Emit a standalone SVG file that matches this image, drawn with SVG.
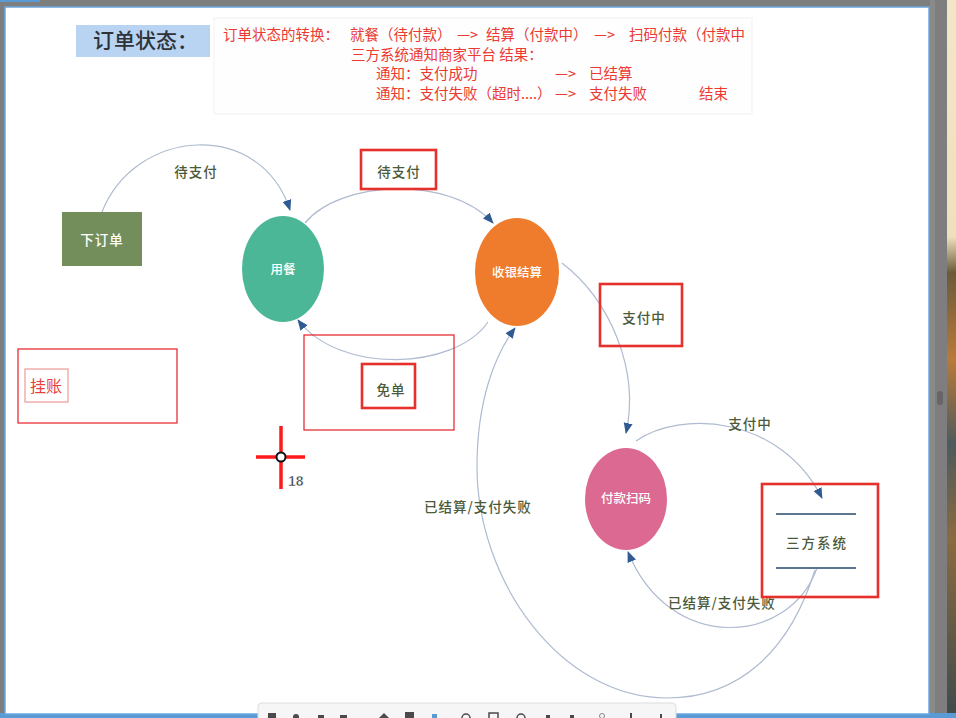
<svg xmlns="http://www.w3.org/2000/svg" width="956" height="718" viewBox="0 0 956 718">
<defs>
<style>
.lbl{font-family:"Noto Sans CJK SC","Liberation Sans",sans-serif;font-size:13.5px;font-weight:500;fill:#4b5a3a;text-anchor:middle;letter-spacing:1px}
.nt{font-family:"Noto Sans CJK SC","Liberation Sans",sans-serif;font-size:12.5px;font-weight:500;fill:#ffffff;text-anchor:middle}
.red{font-family:"Noto Sans CJK SC","Liberation Sans",sans-serif;font-size:14.5px;fill:#ea3a32}
.edge{fill:none;stroke:#aebbd0;stroke-width:1.2}
.hl{fill:none;stroke:#e6302b;stroke-width:2.6}
.thin{fill:none;stroke:#e41e26;stroke-width:1.2}
.ico{fill:#4a4a4a}
</style>
<marker id="arr" markerWidth="11" markerHeight="10" refX="10" refY="5" orient="auto" markerUnits="userSpaceOnUse">
<path d="M0,0.5 L11,5 L0,9.5 z" fill="#2f5b92"/>
</marker>
<linearGradient id="photo" x1="0" y1="0" x2="0" y2="1">
<stop offset="0" stop-color="#f3e6c8"/>
<stop offset="0.33" stop-color="#efe0bd"/>
<stop offset="0.38" stop-color="#6b5a3a"/>
<stop offset="0.5" stop-color="#b87a3a"/>
<stop offset="0.62" stop-color="#4e5a5c"/>
<stop offset="0.75" stop-color="#8a6a40"/>
<stop offset="1" stop-color="#3f4a4c"/>
</linearGradient>
</defs>

<!-- window frame -->
<g id="frame">
<rect x="0" y="0" width="956" height="718" fill="#7e7e7e"/>
<rect x="0" y="0" width="40" height="2" fill="#5b9bd5"/>
<rect x="947" y="0" width="9" height="718" fill="url(#photo)"/>
<rect x="930" y="0" width="5" height="718" fill="#8a8a8a"/>
<rect x="937" y="391" width="6" height="14" rx="3" fill="#666"/>
<rect x="0" y="713" width="956" height="5" fill="#5b9bd5"/>
<rect x="5" y="7" width="924" height="707" fill="#ffffff" stroke="#6aa6e0" stroke-width="1.5"/>
</g>

<!-- header -->
<g id="title">
<rect x="76" y="25" width="134" height="32" fill="#b9d3f3"/>
<text x="93" y="48" font-family="Noto Sans CJK SC, Liberation Sans, sans-serif" font-size="21" font-weight="500" fill="#2f3337">订单状态：</text>
<text x="80" y="33" font-family="Liberation Sans, sans-serif" font-size="9" fill="#cfdcea">··</text>
<text x="198" y="33" font-family="Liberation Sans, sans-serif" font-size="9" fill="#cfdcea">··</text>
</g>

<g id="note">
<rect x="214" y="18" width="538" height="96" fill="#fefefe" stroke="#f1f1f1" stroke-width="1"/>
<text class="red" x="223" y="40">订单状态的转换：</text>
<text class="red" x="350" y="40">就餐（待付款）</text>
<text class="red" x="457" y="40">—&gt;</text>
<text class="red" x="486" y="40">结算（付款中）</text>
<text class="red" x="594" y="40">—&gt;</text>
<text class="red" x="629" y="40">扫码付款（付款中</text>
<text class="red" x="351" y="60">三方系统通知商家平台 结果：</text>
<text class="red" x="376" y="79">通知：支付成功</text>
<text class="red" x="555" y="79">—&gt;</text>
<text class="red" x="589" y="79">已结算</text>
<text class="red" x="376" y="99">通知：支付失败（超时....）</text>
<text class="red" x="555" y="99">—&gt;</text>
<text class="red" x="589" y="99">支付失败</text>
<text class="red" x="699" y="99">结束</text>
</g>

<!-- connectors -->
<g id="connectors">
<path class="edge" d="M102,212 C135,128 260,118 290,210" marker-end="url(#arr)"/>
<path class="edge" d="M305,223 C340,180 450,175 493,223" marker-end="url(#arr)"/>
<path class="edge" d="M488,322 C455,370 340,375 298,320" marker-end="url(#arr)"/>
<path class="edge" d="M562,263 C610,300 640,370 626,433" marker-end="url(#arr)"/>
<path class="edge" d="M636,441 C680,410 780,415 822,498" marker-end="url(#arr)"/>
<path class="edge" d="M817,568 C790,645 670,655 628,552" marker-end="url(#arr)"/>
<path class="edge" d="M815,570 C790,650 740,698 667,698 C560,698 477,580 477,467 C477,400 495,355 515,328" marker-end="url(#arr)"/>
</g>

<!-- edge labels -->
<g id="labels">
<text class="lbl" x="196" y="177">待支付</text>
<rect class="hl" x="361" y="150" width="75" height="39"/>
<text class="lbl" x="399" y="177">待支付</text>
<rect class="hl" x="362" y="364" width="53" height="44"/>
<text class="lbl" x="391" y="395">免单</text>
<rect class="thin" x="304" y="335" width="150" height="95"/>
<rect class="hl" x="600" y="284" width="82" height="62"/>
<text class="lbl" x="644" y="323">支付中</text>
<text class="lbl" x="750" y="429">支付中</text>
<text class="lbl" x="722" y="608">已结算/支付失败</text>
<text class="lbl" x="478" y="512">已结算/支付失败</text>
</g>

<!-- nodes -->
<g id="node-order">
<rect x="62" y="212" width="80" height="54" fill="#738d5b"/>
<text class="nt" x="102" y="245" style="font-size:13.5px;letter-spacing:1px">下订单</text>
</g>
<g id="node-dine">
<ellipse cx="283" cy="269" rx="41" ry="53" fill="#4bb796"/>
<text class="nt" x="283" y="274">用餐</text>
</g>
<g id="node-checkout">
<ellipse cx="517" cy="272" rx="42" ry="54" fill="#ee7c2c"/>
<text class="nt" x="517" y="277">收银结算</text>
</g>
<g id="node-scan">
<ellipse cx="626" cy="499" rx="41" ry="51" fill="#dc6992"/>
<text class="nt" x="626" y="503">付款扫码</text>
</g>
<g id="node-third">
<line x1="776" y1="514" x2="856" y2="514" stroke="#5b7693" stroke-width="2"/>
<line x1="776" y1="568" x2="856" y2="568" stroke="#5b7693" stroke-width="2"/>
<text class="lbl" x="817" y="548" style="letter-spacing:2px">三方系统</text>
<rect class="hl" x="762" y="484" width="116" height="113"/>
</g>
<g id="node-credit">
<rect class="thin" x="18" y="349" width="159" height="74"/>
<rect x="25" y="369" width="43" height="33" fill="#ffffff" stroke="#ef9a9a" stroke-width="1.2"/>
<text x="46" y="392" font-family="Noto Sans CJK SC, Liberation Sans, sans-serif" font-size="16" fill="#e8403a" text-anchor="middle">挂账</text>
</g>

<!-- cursor -->
<g id="cursor">
<line x1="256" y1="457" x2="305" y2="457" stroke="#ff1a1a" stroke-width="3.5"/>
<line x1="281" y1="426" x2="281" y2="489" stroke="#ff1a1a" stroke-width="3.5"/>
<circle cx="281" cy="457" r="4.5" fill="#ffffff" stroke="#111" stroke-width="2"/>
<text x="288" y="486" font-family="Liberation Sans, sans-serif" font-size="14" font-weight="bold" fill="#333" stroke="#fff" stroke-width="0.5">18</text>
</g>

<!-- toolbar -->
<g id="toolbar">
<rect x="258" y="703" width="418" height="20" rx="4" fill="#f6f6f6" stroke="#dcdcdc" stroke-width="1"/>
<rect class="ico" x="268" y="713" width="8" height="5"/>
<circle class="ico" cx="296" cy="717" r="3"/>
<rect class="ico" x="318" y="715" width="6" height="3"/>
<rect class="ico" x="340" y="715" width="7" height="3"/>
<path class="ico" d="M384,713 L389,718 L379,718 z"/>
<rect class="ico" x="405" y="712" width="9" height="6"/>
<rect x="432" y="714" width="5" height="4" fill="#5b9bd5"/>
<circle cx="466" cy="718" r="4" fill="none" stroke="#4a4a4a" stroke-width="1.5"/>
<rect x="489" y="713" width="9" height="6" fill="none" stroke="#4a4a4a" stroke-width="1.5"/>
<circle cx="521" cy="718" r="4" fill="none" stroke="#4a4a4a" stroke-width="1.5"/>
<rect class="ico" x="546" y="715" width="4" height="3"/>
<rect class="ico" x="570" y="715" width="4" height="3"/>
<circle cx="602" cy="716" r="2.5" fill="none" stroke="#888" stroke-width="1"/>
<rect class="ico" x="630" y="713" width="2" height="5"/>
<rect class="ico" x="660" y="714" width="2" height="4"/>
</g>
</svg>
